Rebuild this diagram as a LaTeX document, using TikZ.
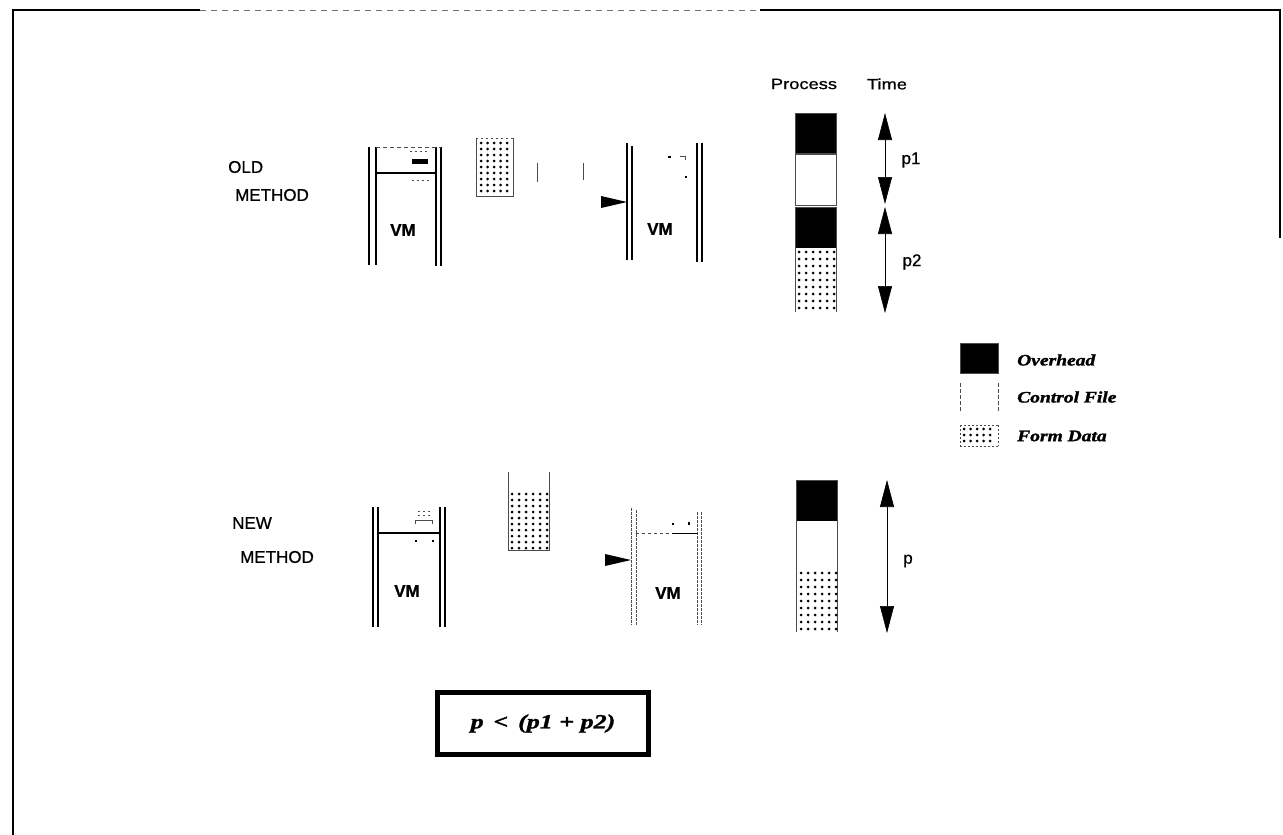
\documentclass[tikz,border=0pt]{standalone}
\usepackage{fontspec}
\setmainfont{Liberation Serif}
\newfontfamily\lsans[FakeBold=0.8]{Liberation Sans}
\newfontfamily\wsans[FakeStretch=1.22,FakeBold=0.8]{Liberation Sans}
\newfontfamily\wserif[FakeStretch=1.22,FakeBold=1.6]{Liberation Serif}
\newfontfamily\fserif[FakeStretch=1.3,FakeBold=1.6]{Liberation Serif}
\usetikzlibrary{arrows.meta}
\newcommand{\dotgrid}[6]{\foreach \xx in {#1,#2,...,#3} {\foreach \yy in {#4,#5,...,#6} {\fill (\xx,\yy) circle (1.5);}}}
\tikzset{
  lab/.style={font=\lsans\fontsize{17}{20}\selectfont, inner sep=0pt, anchor=west},
  vmtext/.style={font=\lsans\bfseries\fontsize{17}{20}\selectfont, inner sep=0pt},
  head/.style={font=\wsans\fontsize{15}{18}\selectfont, inner sep=0pt},
  plab/.style={font=\lsans\fontsize{17}{20}\selectfont, inner sep=0pt},
  legtext/.style={font=\wserif\bfseries\itshape\fontsize{16}{19}\selectfont, inner sep=0pt, anchor=west},
  vmline/.style={line width=1.1pt, black},
  thinline/.style={line width=0.6pt, black!70},
  cell/.style={draw=black!70, line width=0.6pt, minimum width=41pt, inner sep=0pt, outer sep=0pt},
  timearrow/.style={line width=0.6pt, black, {Triangle[length=27pt,width=14pt]}-{Triangle[length=27pt,width=14pt]}},
  pointer/.style={fill=black}
}
\begin{document}
\begin{tikzpicture}[x=1pt,y=-1pt]
\useasboundingbox (0,0) rectangle (1283,835);
% frame
\draw[line width=1.4pt] (13,835) -- (13,10) -- (200,10);
\draw[line width=0.6pt, black!55, dash pattern=on 6pt off 5pt] (200,10) -- (760,10);
\draw[line width=1.4pt] (760,10) -- (1280,10) -- (1280,238);

% ---------- OLD METHOD ----------
\node[lab] (oldA) at (228,167) {OLD};
\node[lab] (oldB) at (235,195) {METHOD};

% left VM (old)
\draw[vmline] (369,147) -- (369,265);
\draw[vmline] (376,147) -- (376,265);
\draw[vmline] (436,147) -- (436,266);
\draw[vmline] (441,147) -- (441,266);
\draw[thinline, dash pattern=on 4pt off 3pt] (376,147) -- (441,147);
\draw[line width=1.3pt] (376,173) -- (436,173);
\fill (412,159) rectangle (428,164);
\draw[thinline, dash pattern=on 2pt off 3pt] (410,151) -- (428,151);
\draw[thinline, dash pattern=on 2pt off 3pt] (412,180) -- (430,180);
\node[vmtext] (vmOL) at (403,230) {VM};

% dotted block (old)
\draw[thinline] (476,138) -- (476,196) -- (513,196) -- (513,138);
\draw[thinline, dash pattern=on 2pt off 3pt] (476,138) -- (513,138);
\dotgrid{481}{487.5}{510}{143}{149}{194}
% small marks
\draw[thinline] (537,163) -- (537,182);
\draw[thinline] (583,163) -- (583,180);

% pointer and right VM (old)
\coordinate (ptrO) at (627,202);
\fill[pointer] (601,196) -- (ptrO) -- (601,208) -- cycle;
\draw[vmline] (627,143) -- (627,260);
\draw[vmline] (632,146) -- (632,260);
\draw[vmline] (697,143) -- (697,262);
\draw[vmline] (702,143) -- (702,262);
\fill (668,156) rectangle (671,158);
\draw[thinline] (680,156) -- (685,156) -- (685,160);
\fill (685,176) rectangle (687,178);
\node[vmtext] (vmOR) at (660,229) {VM};

% ---------- NEW METHOD ----------
\node[lab] (newA) at (232,523) {NEW};
\node[lab] (newB) at (240,557) {METHOD};

% left VM (new)
\draw[vmline] (373,507) -- (373,627);
\draw[vmline] (378,507) -- (378,627);
\draw[vmline] (440,507) -- (440,627);
\draw[vmline] (445,507) -- (445,627);
\draw[line width=1.1pt] (378,533) -- (440,533);
\draw[thinline] (415,524) -- (415,520) -- (432,520) -- (432,524);
\draw[thinline, dash pattern=on 2pt off 3pt] (418,511) -- (430,511);
\draw[thinline, dash pattern=on 2pt off 3pt] (418,515) -- (430,515);
\fill (415,540) rectangle (417,542);
\fill (432,540) rectangle (434,542);
\node[vmtext] (vmNL) at (407,591) {VM};

% dotted container (new)
\draw[thinline] (508,472) -- (508,550) -- (549,550) -- (549,472);
\dotgrid{512}{519}{547}{494}{500}{548}

% pointer and right VM (new)
\coordinate (ptrN) at (631,560);
\fill[pointer] (605,554) -- (ptrN) -- (605,566) -- cycle;
\draw[thinline, line width=0.9pt, dash pattern=on 3pt off 1pt] (631,508) -- (631,625);
\draw[thinline, line width=0.9pt, dash pattern=on 3pt off 1pt] (636,510) -- (636,625);
\draw[thinline, line width=0.9pt, dash pattern=on 3pt off 1pt] (697,512) -- (697,625);
\draw[thinline, line width=0.9pt, dash pattern=on 3pt off 1pt] (701,512) -- (701,625);
\draw[thinline, dash pattern=on 3pt off 3pt] (636,533) -- (672,533);
\draw[line width=1pt] (672,533) -- (697,533);
\fill (672,523) rectangle (674,525);
\fill (688,522) rectangle (690,525);
\node[vmtext] (vmNR) at (668,593) {VM};

% ---------- Process / Time ----------
\node[head] (hProc) at (804,84) {Process};
\node[head] (hTime) at (887,84) {Time};

% old process column
\node[cell, fill=black, minimum height=40pt] (c1) at (816,133) {};
\node[cell, fill=white, minimum height=51pt] (c2) at (816,179.5) {};
\node[cell, fill=black, minimum height=41pt] (c3) at (816,227.5) {};
\node[cell, fill=white, draw=none, minimum height=64pt] (c4) at (816,280) {};
\draw[thinline] (c4.north west) -- (c4.south west);
\draw[thinline] (c4.north east) -- (c4.south east);
\dotgrid{799}{806}{834}{252}{259}{310}

% old time arrows
\coordinate (t1a) at (885,113);
\coordinate (t1b) at (885,204);
\coordinate (t2a) at (885,207);
\coordinate (t2b) at (885,313);
\draw[timearrow] (t1a) -- (t1b);
\draw[timearrow] (t2a) -- (t2b);
\node[plab] (lp1) at (911,160) {p1};
\node[plab] (lp2) at (912,262) {p2};

% new process column
\node[cell, fill=black, minimum height=41pt] (n1) at (817,500.5) {};
\node[cell, fill=white, draw=none, minimum height=49pt] (n2) at (817,545.5) {};
\draw[thinline] (n2.north west) -- (n2.south west);
\draw[thinline] (n2.north east) -- (n2.south east);
\node[cell, fill=white, draw=none, minimum height=62pt] (n3) at (817,601) {};
\draw[thinline] (n3.north west) -- (n3.south west);
\draw[thinline] (n3.north east) -- (n3.south east);
\dotgrid{801}{808}{836}{573}{580}{630}

\coordinate (tna) at (887,480);
\coordinate (tnb) at (887,633);
\draw[timearrow] (tna) -- (tnb);
\node[plab] (lp) at (908,561) {p};

% ---------- Legend ----------
\node[cell, fill=black, minimum width=38pt, minimum height=30pt] (lg1) at (979,358.5) {};
\node[cell, draw=none, minimum width=38pt, minimum height=29pt] (lg2) at (979,397.5) {};
\draw[thinline, dash pattern=on 4pt off 2pt] (lg2.north west) -- (lg2.south west);
\draw[thinline, dash pattern=on 4pt off 2pt] (lg2.north east) -- (lg2.south east);
\node[cell, draw=none, minimum width=38pt, minimum height=21pt] (lg3) at (979,435.5) {};
\draw[thinline, dash pattern=on 2pt off 2pt] (lg3.north west) -- (lg3.north east);
\draw[thinline, dash pattern=on 2pt off 2pt] (lg3.south west) -- (lg3.south east);
\draw[thinline, dash pattern=on 2pt off 2pt] (lg3.north west) -- (lg3.south west);
\draw[thinline, dash pattern=on 2pt off 2pt] (lg3.north east) -- (lg3.south east);
\dotgrid{964}{970.5}{996}{429}{435}{442}
\node[legtext] (tOver) at (1017,360) {Overhead};
\node[legtext] (tCtrl) at (1017,397) {Control File};
\node[legtext] (tForm) at (1017,436) {Form Data};

% ---------- Formula ----------
\node[draw=black, line width=5pt, minimum width=211pt, minimum height=62pt, inner sep=0pt,
      font=\fserif\bfseries\itshape\fontsize{20}{24}\selectfont] (formula) at (543,723.5) {p \,<\, (p1 + p2)};
\end{tikzpicture}
\end{document}
